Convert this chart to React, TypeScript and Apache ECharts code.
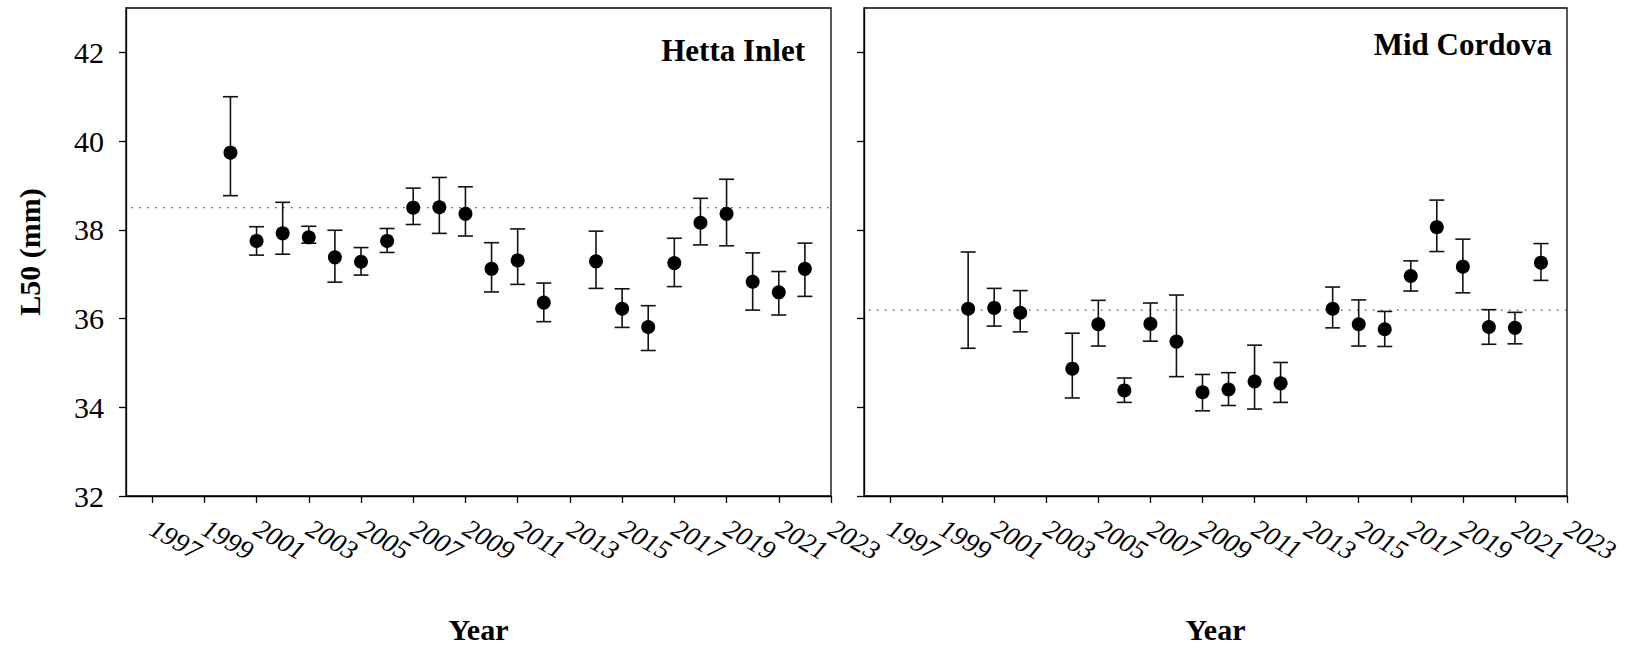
import React, { useEffect, useRef } from "react";
import * as echarts from "echarts";

// ---- Data ----
const xTicks = [1997, 1999, 2001, 2003, 2005, 2007, 2009, 2011, 2013, 2015, 2017, 2019, 2021, 2023];
// tick labels split into two alternating sets so the library does not drop overlapping rotated labels
const xLabelsA = [1997, 2001, 2005, 2009, 2013, 2017, 2021];
const xLabelsB = [1999, 2003, 2007, 2011, 2015, 2019, 2023];
const yTicks = [32, 34, 36, 38, 40, 42];

const hettaYears = [2000, 2001, 2002, 2003, 2004, 2005, 2006, 2007, 2008, 2009, 2010, 2011, 2012, 2014, 2015, 2016, 2017, 2018, 2019, 2020, 2021, 2022];
const hettaL50 = [39.74, 37.75, 37.92, 37.83, 37.38, 37.28, 37.75, 38.5, 38.51, 38.36, 37.12, 37.31, 36.36, 37.29, 36.22, 35.81, 37.25, 38.16, 38.36, 36.83, 36.59, 37.12];
const hettaLow = [38.77, 37.43, 37.45, 37.7, 36.82, 36.98, 37.49, 38.12, 37.92, 37.86, 36.6, 36.77, 35.93, 36.68, 35.8, 35.28, 36.72, 37.66, 37.64, 36.19, 36.08, 36.5];
const hettaHigh = [41.0, 38.07, 38.62, 38.08, 37.99, 37.6, 38.03, 38.94, 39.18, 38.97, 37.71, 38.02, 36.8, 37.97, 36.67, 36.29, 37.81, 38.71, 39.14, 37.48, 37.06, 37.7];
const hettaMean = 38.5;

const cordovaYears = [2000, 2001, 2002, 2004, 2005, 2006, 2007, 2008, 2009, 2010, 2011, 2012, 2014, 2015, 2016, 2017, 2018, 2019, 2020, 2021, 2022];
const cordovaL50 = [36.22, 36.24, 36.13, 34.87, 35.87, 34.38, 35.88, 35.48, 34.34, 34.4, 34.58, 34.54, 36.22, 35.87, 35.76, 36.96, 38.06, 37.17, 35.81, 35.79, 37.26];
const cordovaLow = [35.33, 35.83, 35.7, 34.21, 35.38, 34.11, 35.49, 34.69, 33.92, 34.04, 33.96, 34.11, 35.79, 35.38, 35.37, 36.62, 37.51, 36.58, 35.42, 35.43, 36.86];
const cordovaHigh = [37.5, 36.68, 36.63, 35.67, 36.41, 34.66, 36.35, 36.53, 34.74, 34.78, 35.4, 35.01, 36.71, 36.42, 36.16, 37.3, 38.67, 37.79, 36.2, 36.14, 37.69];
const cordovaMean = 36.19;

const panelTitles = ["Hetta Inlet", "Mid Cordova"];

const FONT = "'Liberation Serif', 'Times New Roman', serif";
const INK = "#000";

function buildPanel(i: number, yrs: number[], mid: number[], lo: number[], hi: number[], mean: number) {
  const errData = yrs.map((y, k) => [y, lo[k], hi[k]]);
  const ptData = yrs.map((y, k) => [y, mid[k]]);
  return [
    {
      type: "custom",
      xAxisIndex: i,
      yAxisIndex: i,
      encode: { x: 0, y: [1, 2] },
      data: errData,
      z: 3,
      renderItem: (params: any, api: any) => {
        const x = api.value(0);
        const p1 = api.coord([x, api.value(1)]);
        const p2 = api.coord([x, api.value(2)]);
        const hw = 7.5;
        const style = { stroke: "#111", lineWidth: 1.6 };
        return {
          type: "group",
          children: [
            { type: "line", shape: { x1: p1[0], y1: p1[1], x2: p2[0], y2: p2[1] }, style },
            { type: "line", shape: { x1: p1[0] - hw, y1: p1[1], x2: p1[0] + hw, y2: p1[1] }, style },
            { type: "line", shape: { x1: p2[0] - hw, y1: p2[1], x2: p2[0] + hw, y2: p2[1] }, style },
          ],
        };
      },
    },
    {
      type: "scatter",
      xAxisIndex: i,
      yAxisIndex: i,
      data: ptData,
      symbol: "circle",
      symbolSize: 14,
      itemStyle: { color: INK, opacity: 1 },
      z: 4,
    },
    {
      type: "line",
      xAxisIndex: i,
      yAxisIndex: i,
      data: [
        [1996.2, mean],
        [2023, mean],
      ],
      symbol: "none",
      lineStyle: { color: "#1c1c4a", width: 1.2, type: [1.2, 6.8] },
      z: 2,
    },
  ];
}

export default function App() {
  const ref = useRef<HTMLDivElement>(null);
  useEffect(() => {
    if (!ref.current) return;
    const chart = echarts.init(ref.current, null, { renderer: "svg" });
    const grids = [
      { left: 126, top: 8, width: 705, height: 493 },
      { left: 864, top: 8, width: 703, height: 493 },
    ].map((g) => ({ ...g, show: true, borderColor: INK, borderWidth: 1.3, backgroundColor: "transparent" }));

    const labelStyle = {
      rotate: -30,
      margin: 30,
      fontFamily: FONT,
      fontStyle: "italic",
      fontSize: 27,
      color: INK,
      showMinLabel: true,
      showMaxLabel: true,
      formatter: (v: number) => String(v),
    };

    const mainX = [0, 1].map((i) => ({
      type: "value",
      gridIndex: i,
      position: "bottom",
      min: 1996,
      max: 2023,
      splitLine: { show: false },
      axisLine: { show: true, lineStyle: { color: INK, width: 1.3 } },
      axisTick: { show: true, customValues: xTicks, length: 7, lineStyle: { color: INK, width: 1.3 } },
      axisLabel: { ...labelStyle, customValues: xLabelsA },
      name: "Year",
      nameLocation: "middle",
      nameGap: 118,
      nameTextStyle: { fontFamily: FONT, fontWeight: "bold", fontSize: 30, color: INK },
    }));
    const altX = [0, 1].map((i) => ({
      type: "value",
      gridIndex: i,
      position: "bottom",
      offset: 0,
      min: 1996,
      max: 2023,
      splitLine: { show: false },
      axisLine: { show: false },
      axisTick: { show: false },
      axisLabel: { ...labelStyle, customValues: xLabelsB },
    }));

    const yAxes = [0, 1].map((i) => ({
      type: "value",
      gridIndex: i,
      min: 32,
      max: 43,
      splitLine: { show: false },
      axisLine: { show: true, lineStyle: { color: INK, width: 1.3 } },
      axisTick: { show: true, customValues: yTicks, length: 7, lineStyle: { color: INK, width: 1.3 } },
      axisLabel: {
        show: i === 0,
        customValues: yTicks,
        showMinLabel: true,
        margin: 22,
        fontFamily: FONT,
        fontSize: 30,
        color: INK,
      },
      name: i === 0 ? "L50 (mm)" : "",
      nameLocation: "middle",
      nameGap: 82,
      nameTextStyle: { fontFamily: FONT, fontWeight: "bold", fontSize: 30, color: INK },
    }));

    const series = [
      ...buildPanel(0, hettaYears, hettaL50, hettaLow, hettaHigh, hettaMean),
      ...buildPanel(1, cordovaYears, cordovaL50, cordovaLow, cordovaHigh, cordovaMean),
    ];

    chart.setOption({
      animation: false,
      backgroundColor: "#fff",
      grid: grids,
      xAxis: [...mainX, ...altX],
      yAxis: yAxes,
      series,
      graphic: [
        {
          type: "text",
          x: 805,
          y: 50,
          style: { text: panelTitles[0], align: "right", verticalAlign: "middle", fontFamily: FONT, fontWeight: "bold", fontSize: 31, fill: INK },
        },
        {
          type: "text",
          x: 1552,
          y: 44,
          style: { text: panelTitles[1], align: "right", verticalAlign: "middle", fontFamily: FONT, fontWeight: "bold", fontSize: 31, fill: INK },
        },
      ],
    });
    return () => chart.dispose();
  }, []);
  return <div ref={ref} style={{ position: "fixed", left: 0, top: 0, width: 1629, height: 649, background: "#fff" }} />;
}
